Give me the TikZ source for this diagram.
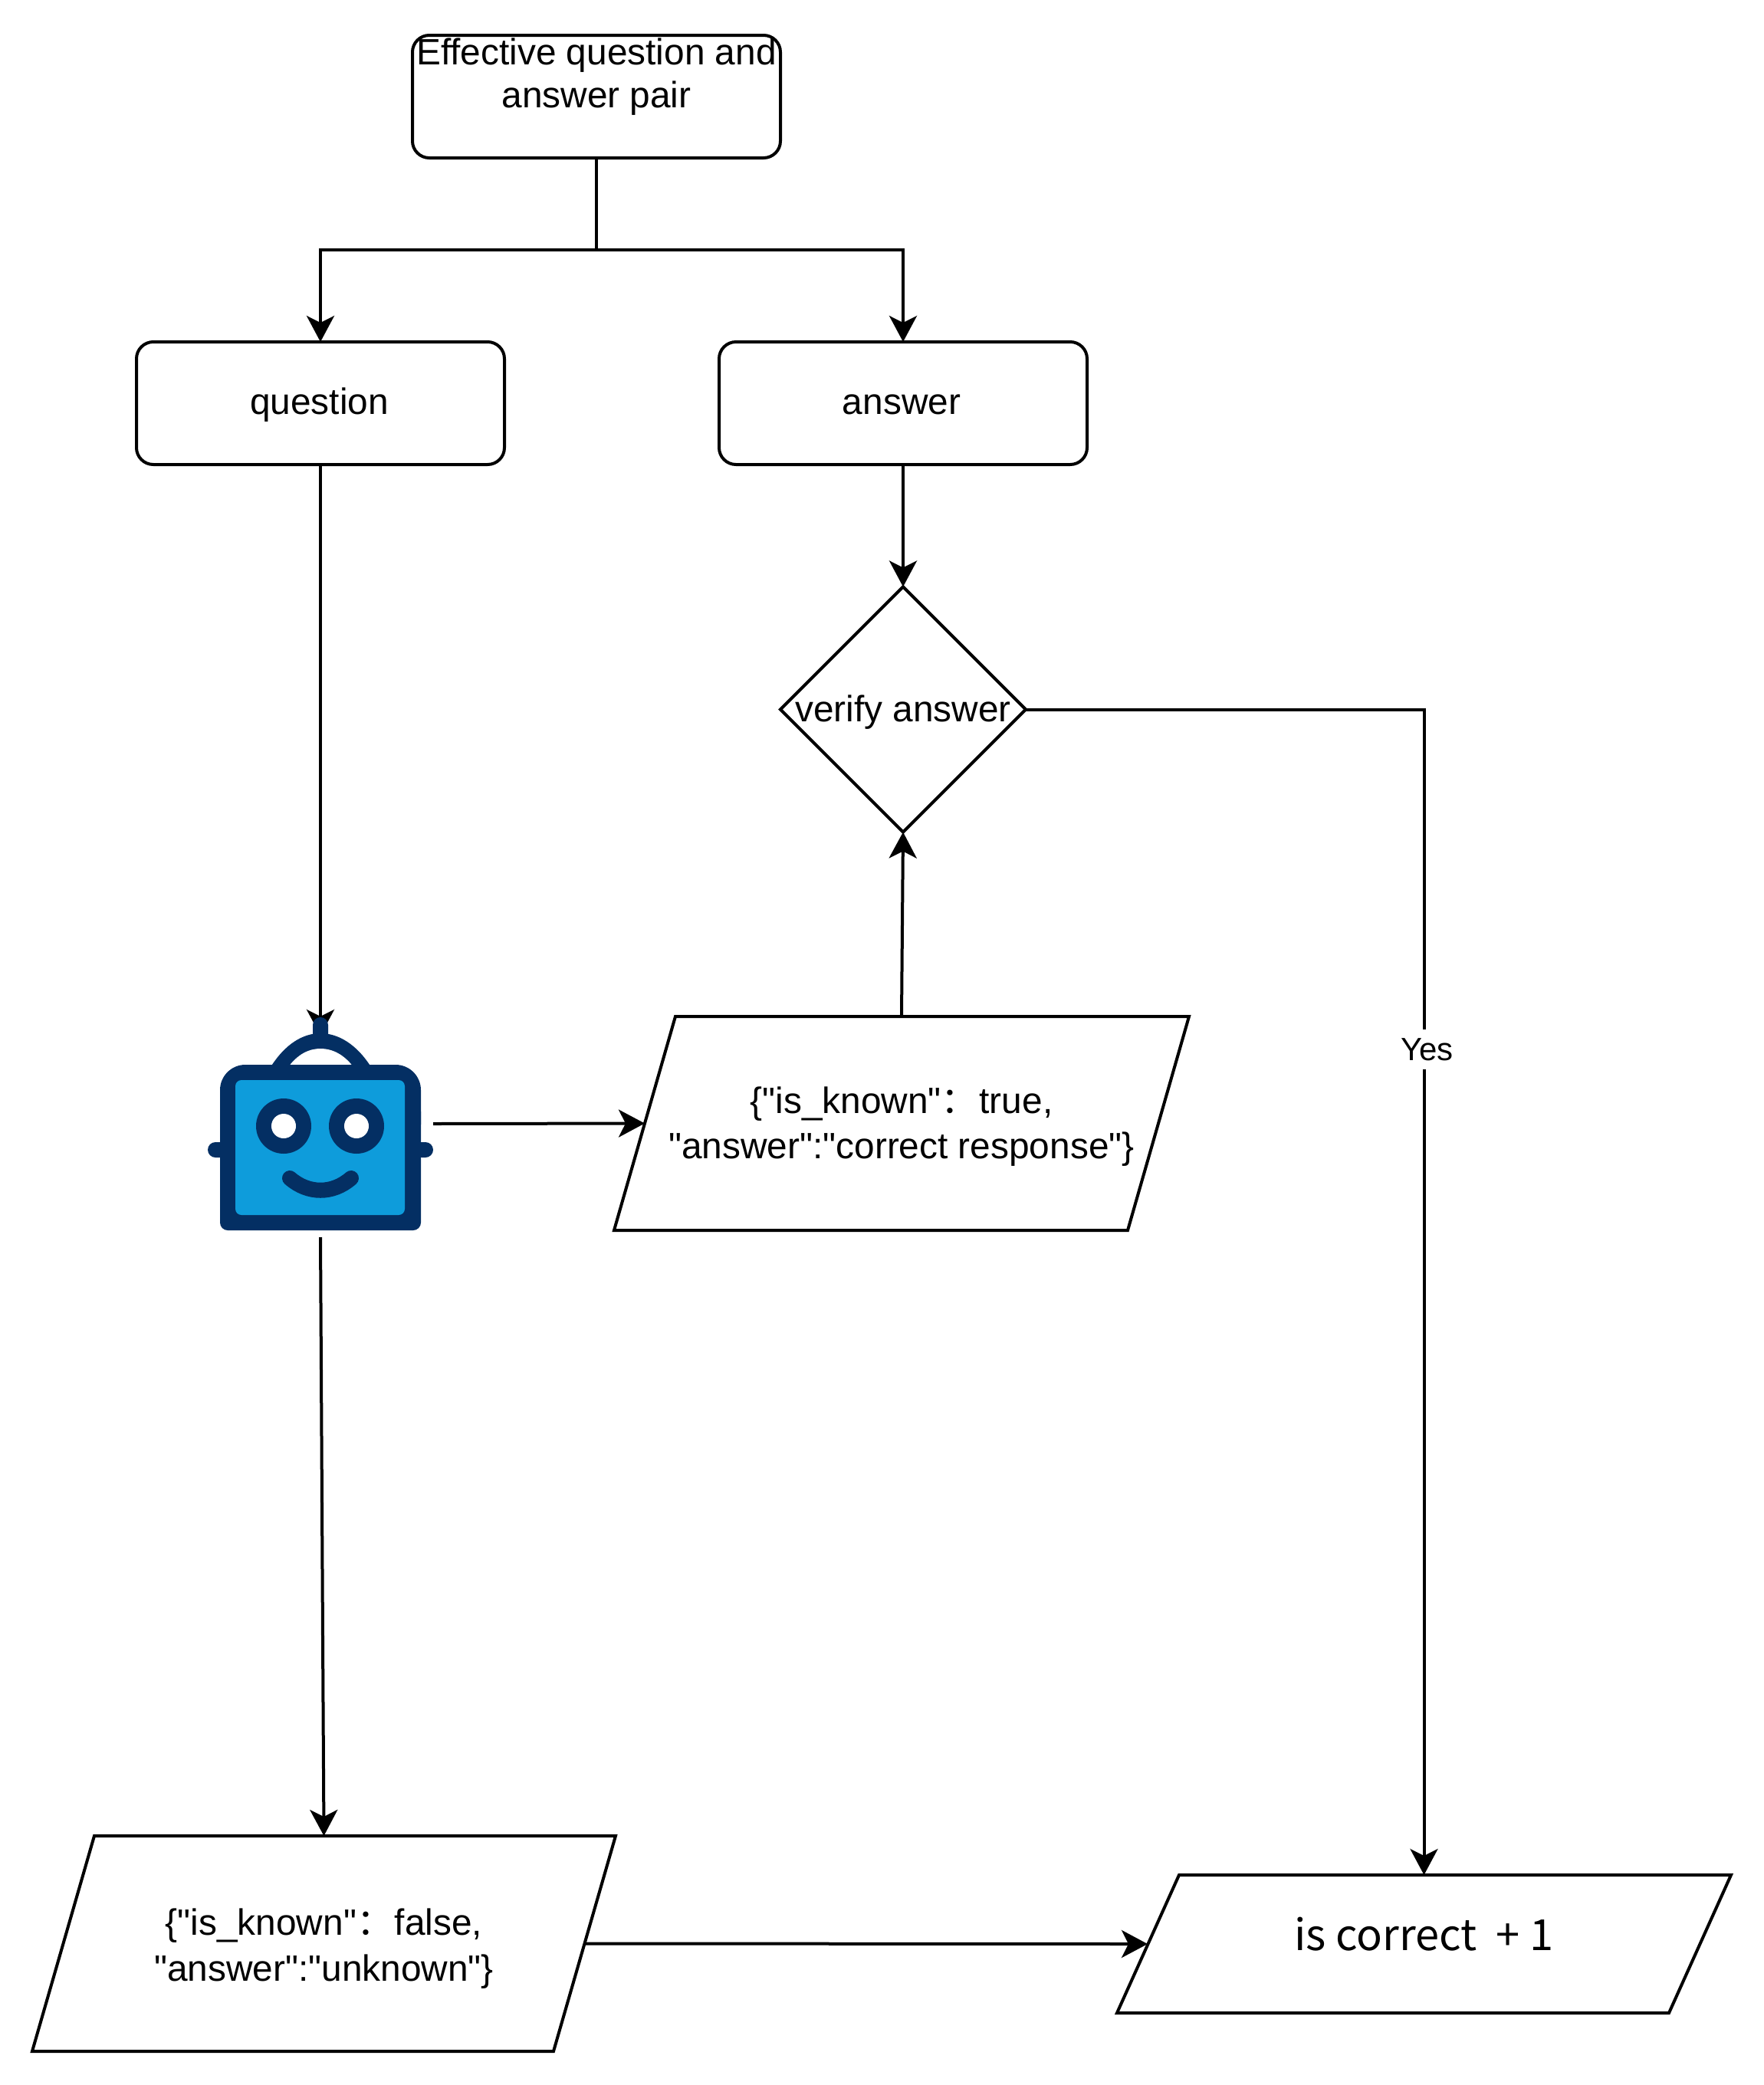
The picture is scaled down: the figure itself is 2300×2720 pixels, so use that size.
\documentclass[tikz,border=0pt]{standalone}
\usepackage{fontspec}
\newfontfamily\lib{Liberation Sans}
\newfontfamily\cjk{Noto Sans CJK SC}
\usetikzlibrary{shapes.geometric,arrows.meta}
\definecolor{robotdark}{HTML}{042F63}
\definecolor{robotlight}{HTML}{0E9CDB}
\tikzset{
  main/.style={font=\lib\fontsize{47.8}{56}\selectfont, align=center, text=black},
  roundbox/.style={main, draw=black, line width=4pt, rounded corners=22pt, minimum width=480pt, minimum height=160pt, inner sep=0pt, outer sep=0pt},
  para/.style={main, font=\lib\fontsize{47.8}{59}\selectfont, inner sep=0pt, outer sep=0pt},
  outline/.style={draw=black, line width=4pt, line join=miter},
  check/.style={main, draw=black, line width=4pt, diamond, minimum width=320pt, minimum height=320pt, inner sep=0pt, outer sep=0pt},
  conn/.style={draw=black, line width=4pt},
  arrow/.style={conn, -{Stealth[length=34pt,width=36pt,inset=9pt]}},
}
\begin{document}
\begin{tikzpicture}[x=1pt,y=-1pt]
\useasboundingbox (0,0) rectangle (2300,2720);
% nodes
\node[roundbox] (pair) at (778,126) {Effective question and\\answer pair\\[6pt]\mbox{}};
\node[roundbox] (question) at (418,526) {\raisebox{-14pt}[0pt][0pt]{\makebox[0pt]{\hspace{-3pt}question}}};
\node[roundbox] (answer) at (1178,526) {\raisebox{-14pt}[0pt][0pt]{\makebox[0pt]{\hspace{-4pt}answer}}};
\node[check] (verify) at (1178,925.5) {\raisebox{-16pt}[0pt][0pt]{\makebox[0pt]{verify answer}}};
\node[para, minimum width=750pt, minimum height=279pt] (known) at (1176,1465.5)
  {\raisebox{-10pt}[0pt][0pt]{\parbox{700pt}{\centering \{"is\_known"{\cjk ：}\hspace{2pt}true,\\"answer":"correct response"\}}}};
\node[para, font=\lib\fontsize{47.8}{60}\selectfont, minimum width=761pt, minimum height=281pt] (unknown) at (422.5,2535.5)
  {\raisebox{-13pt}[0pt][0pt]{\parbox{700pt}{\centering \{"is\_known"{\cjk ：}\hspace{2pt}false,\\"answer":"unknown"\}}}};
\node[para, font=\cjk\fontsize{56}{66}\selectfont, minimum width=801pt, minimum height=180pt] (correct) at (1857.5,2536)
  {\raisebox{-8pt}[0pt][0pt]{\makebox[0pt]{is correct\ \ + 1}}};
\node[inner sep=0pt, outer sep=0pt, minimum width=294pt, minimum height=296pt] (robot) at (418,1466) {};
% parallelogram outlines
\draw[outline] ([xshift=80pt]known.north west) -- (known.north east) -- ([xshift=-80pt]known.south east) -- (known.south west) -- cycle;
\draw[outline] ([xshift=81pt]unknown.north west) -- (unknown.north east) -- ([xshift=-81pt]unknown.south east) -- (unknown.south west) -- cycle;
\draw[outline] ([xshift=81pt]correct.north west) -- (correct.north east) -- ([xshift=-81pt]correct.south east) -- (correct.south west) -- cycle;
% connectors
\coordinate (split) at (778,326);
\draw[conn] (pair.south) -- (split);
\draw[arrow] (split) -| (question.north);
\draw[arrow] (split) -| (answer.north);
\draw[arrow] (answer.south) -- (verify.north);
\draw[arrow] (known.north) -- (verify.south);
\draw[arrow] (question.south) -- ([yshift=-33pt]robot.north);
\draw[arrow] (robot.east) -- ([xshift=40pt]known.west);
\draw[arrow] (robot.south) -- (unknown.north);
\draw[arrow] ([xshift=-40pt]unknown.east) -- ([xshift=40pt]correct.west);
\draw[arrow] (verify.east) -| node[pos=0.646, fill=white, inner sep=0pt, minimum height=52pt, xshift=4pt, font=\lib\fontsize{42}{48}\selectfont] (yes) {Yes} (correct.north);
% robot
\fill[robotdark] (353,1392) .. controls (372,1362) and (395,1348) .. (418,1348) .. controls (441,1348) and (465,1362) .. (484,1392) -- cycle;
\fill[white] (376,1392) .. controls (388,1376) and (402,1368) .. (418,1368) .. controls (434,1368) and (449,1376) .. (461,1392) -- cycle;
\fill[robotdark, rounded corners=10pt] (408,1360) -- (408,1327) -- (428,1327) -- (428,1360) -- cycle;
\fill[robotdark, rounded corners=10pt] (300,1490) -- (271,1490) -- (271,1510) -- (300,1510) -- cycle;
\fill[robotdark, rounded corners=10pt] (540,1490) -- (565,1490) -- (565,1510) -- (540,1510) -- cycle;
\fill[robotdark, rounded corners=33pt] (287,1500) -- (287,1389) -- (549,1389) -- (549,1500) -- cycle;
\fill[robotdark, rounded corners=10pt] (287,1440) -- (287,1605) -- (549,1605) -- (549,1440) -- cycle;
\fill[robotlight, rounded corners=8pt] (307,1585) -- (307,1409) -- (528,1409) -- (528,1585) -- cycle;
\fill[robotdark] (370,1469) circle[radius=36pt];
\fill[robotdark] (465,1469) circle[radius=36pt];
\fill[white] (370,1469) circle[radius=16pt];
\fill[white] (465,1469) circle[radius=16pt];
\draw[robotdark, line width=20pt, line cap=round] (378,1537) .. controls (402,1558) and (434,1558) .. (458,1537);
\end{tikzpicture}
\end{document}
